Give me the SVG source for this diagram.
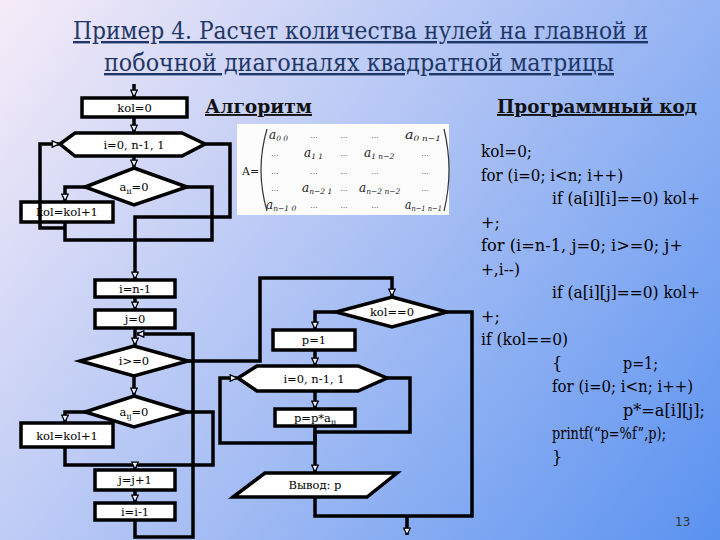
<svg xmlns="http://www.w3.org/2000/svg" width="720" height="540" viewBox="0 0 720 540">
<defs>
<linearGradient id="bg" x1="0" y1="0" x2="720" y2="540" gradientUnits="userSpaceOnUse">
<stop offset="0" stop-color="#f6ecf8"/>
<stop offset="0.5" stop-color="#aac0f4"/>
<stop offset="1" stop-color="#5a92f0"/>
</linearGradient>
<marker id="ah" viewBox="0 0 10 10" refX="9.5" refY="5" markerWidth="8" markerHeight="8" markerUnits="userSpaceOnUse" orient="auto">
<path d="M1,1 L9.5,5 L1,9 Z" fill="#e8eefb" stroke="#000" stroke-width="1.6"/>
</marker>
<style>
.n{fill:#fff;stroke:#000;stroke-width:3.5}
.c{fill:none;stroke:#000;stroke-width:3.5}
.a{marker-end:url(#ah)}
.t{font-family:'DejaVu Serif','Liberation Serif',serif;font-size:11.5px;text-anchor:middle;fill:#000}
.code{font-family:'DejaVu Serif','Liberation Serif',serif;font-size:16px;fill:#000}
.h{font-family:'DejaVu Serif','Liberation Serif',serif;font-size:19px;font-weight:bold;fill:#111;text-decoration:underline}
.ttl{font-family:'DejaVu Serif','Liberation Serif',serif;font-size:24px;fill:#1f3766;text-decoration:underline}
.m{font-family:'DejaVu Serif','Liberation Serif',serif;font-size:12px;font-style:italic;fill:#222}
.d{font-family:'DejaVu Serif','Liberation Serif',serif;font-size:8px;fill:#333;text-anchor:middle}
</style>
</defs>
<rect x="0" y="0" width="720" height="540" fill="url(#bg)"/>

<g id="title">
<text class="ttl" x="73" y="39" textLength="575" lengthAdjust="spacingAndGlyphs">Пример 4. Расчет количества нулей на главной и</text>
<text class="ttl" x="104" y="71" textLength="510" lengthAdjust="spacingAndGlyphs">побочной диагоналях квадратной матрицы</text>
</g>

<g id="headers">
<text class="h" x="205" y="113" textLength="107" lengthAdjust="spacingAndGlyphs">Алгоритм</text>
<text class="h" x="497" y="113" textLength="200" lengthAdjust="spacingAndGlyphs">Программный код</text>
</g>

<g id="matrix">
<rect x="237" y="124" width="212" height="91" fill="#fcfcfc"/>
<text x="242" y="175" font-family="'DejaVu Serif',serif" font-size="11" fill="#222">A=</text>
<path d="M267,129 Q255,170 267,211" fill="none" stroke="#333" stroke-width="1.2"/>
<path d="M444,129 Q454,170 444,211" fill="none" stroke="#333" stroke-width="1.2"/>
<text class="m" x="269" y="139">a<tspan font-size="7.5" dy="2">0 0</tspan></text>
<text class="d" x="314" y="138">...</text><text class="d" x="344" y="138">...</text><text class="d" x="375" y="138">...</text>
<text class="m" x="405" y="139" textLength="36" lengthAdjust="spacingAndGlyphs">a<tspan font-size="7.5" dy="2">0 n−1</tspan></text>
<text class="d" x="275" y="156">...</text>
<text class="m" x="304" y="157">a<tspan font-size="7.5" dy="2">1 1</tspan></text>
<text class="d" x="344" y="156">...</text>
<text class="m" x="364" y="157">a<tspan font-size="7.5" dy="2">1 n−2</tspan></text>
<text class="d" x="425" y="156">...</text>
<text class="d" x="275" y="174">...</text><text class="d" x="314" y="174">...</text><text class="d" x="344" y="174">...</text><text class="d" x="375" y="174">...</text><text class="d" x="425" y="174">...</text>
<text class="d" x="275" y="191">...</text>
<text class="m" x="302" y="192">a<tspan font-size="7.5" dy="2">n−2 1</tspan></text>
<text class="d" x="344" y="191">...</text>
<text class="m" x="359" y="192">a<tspan font-size="7.5" dy="2">n−2 n−2</tspan></text>
<text class="d" x="425" y="191">...</text>
<text class="m" x="266" y="209">a<tspan font-size="7.5" dy="2">n−1 0</tspan></text>
<text class="d" x="314" y="208">...</text><text class="d" x="344" y="208">...</text><text class="d" x="375" y="208">...</text>
<text class="m" x="405" y="209" textLength="37" lengthAdjust="spacingAndGlyphs">a<tspan font-size="7.5" dy="2">n−1 n−1</tspan></text>
</g>

<g id="code" class="code">
<text x="481" y="157" textLength="51" lengthAdjust="spacingAndGlyphs">kol=0;</text>
<text x="481" y="180.5" textLength="142" lengthAdjust="spacingAndGlyphs">for (i=0; i&lt;n; i++)</text>
<text x="552" y="204" textLength="148" lengthAdjust="spacingAndGlyphs">if (a[i][i]==0) kol+</text>
<text x="481" y="227.5">+;</text>
<text x="481" y="251" textLength="202" lengthAdjust="spacingAndGlyphs">for (i=n-1, j=0; i&gt;=0; j+</text>
<text x="481" y="274.5" textLength="39" lengthAdjust="spacingAndGlyphs">+,i--)</text>
<text x="552" y="298" textLength="148" lengthAdjust="spacingAndGlyphs">if (a[i][j]==0) kol+</text>
<text x="481" y="321.5">+;</text>
<text x="481" y="345" textLength="87" lengthAdjust="spacingAndGlyphs">if (kol==0)</text>
<text x="552" y="368.5">{</text>
<text x="623" y="368.5" textLength="35" lengthAdjust="spacingAndGlyphs">p=1;</text>
<text x="552" y="392" textLength="141" lengthAdjust="spacingAndGlyphs">for (i=0; i&lt;n; i++)</text>
<text x="623" y="415.5" textLength="82" lengthAdjust="spacingAndGlyphs">p*=a[i][j];</text>
<text x="552" y="439" textLength="114" lengthAdjust="spacingAndGlyphs">printf(“p=%f”,p);</text>
<text x="552" y="462.5">}</text>
</g>

<text id="page" x="675" y="526" font-family="'DejaVu Sans',sans-serif" font-size="12" fill="#333">13</text>

<g id="n-kol0"><rect class="n" x="82" y="98" width="105" height="19"/><text class="t" x="134.5" y="112">kol=0</text></g>
<g id="n-loop1"><polygon class="n" points="60,144 75,133 182,133 205,144 182,156 75,156"/><text class="t" x="134" y="149">i=0, n-1, 1</text></g>
<g id="n-aii"><polygon class="n" points="134,168 187,187 134,205 85,187"/><text class="t" x="134" y="191">a<tspan font-size="8" dy="3">ii</tspan><tspan dy="-3">=0</tspan></text></g>
<g id="n-inc1"><rect class="n" x="21" y="202" width="92" height="20"/><text class="t" x="67" y="216">kol=kol+1</text></g>
<g id="n-in1"><rect class="n" x="95" y="280" width="80" height="17"/><text class="t" x="135" y="293">i=n-1</text></g>
<g id="n-j0"><rect class="n" x="95" y="310" width="80" height="18"/><text class="t" x="135" y="323">j=0</text></g>
<g id="n-ige0"><polygon class="n" points="134,346 188,361 134,376 80,361"/><text class="t" x="134" y="365">i&gt;=0</text></g>
<g id="n-aij"><polygon class="n" points="134,396 187,412 134,427 85,412"/><text class="t" x="134" y="416">a<tspan font-size="8" dy="3">ij</tspan><tspan dy="-3">=0</tspan></text></g>
<g id="n-inc2"><rect class="n" x="21" y="423" width="92" height="24"/><text class="t" x="67" y="440">kol=kol+1</text></g>
<g id="n-jinc"><rect class="n" x="95" y="470" width="80" height="20"/><text class="t" x="135" y="484">j=j+1</text></g>
<g id="n-idec"><rect class="n" x="95" y="503" width="80" height="17"/><text class="t" x="135" y="516">i=i-1</text></g>
<g id="n-kol00"><polygon class="n" points="392,297 447,312 392,327 336,312"/><text class="t" x="392" y="316">kol==0</text></g>
<g id="n-p1"><rect class="n" x="273" y="330" width="82" height="20"/><text class="t" x="314" y="344">p=1</text></g>
<g id="n-loop2"><polygon class="n" points="238,378 257,366 358,366 387,378 358,391 257,391"/><text class="t" x="314" y="383">i=0, n-1, 1</text></g>
<g id="n-pmul"><rect class="n" x="275" y="409" width="80" height="17"/><text class="t" x="315" y="422">p=p*a<tspan font-size="8" dy="3">ii</tspan></text></g>
<g id="n-out"><polygon class="n" points="265,473 397,473 367,497 233,497"/><text class="t" x="315" y="489">Вывод: p</text></g>

<g id="connectors">
<path class="c a" d="M134,84 V97"/>
<path class="c a" d="M134,117 V132"/>
<path class="c a" d="M134,156 V167"/>
<path class="c a" d="M85,187 H65 V201"/>
<path class="c" d="M187,187 H212 V240 H65 V222"/>
<path class="c a" d="M65,228 H40 V144 H59"/>
<path class="c a" d="M205,144 H230 V217 H135 V279"/>
<path class="c a" d="M135,297 V309"/>
<path class="c a" d="M135,328 V345"/>
<path class="c a" d="M135,520 V537 H193 V334 H137"/>
<path class="c a" d="M188,361 H260 V278 H392 V296"/>
<path class="c a" d="M134,376 V395"/>
<path class="c a" d="M85,412 H65 V422"/>
<path class="c" d="M187,412 H213 V465 H65 V447"/>
<path class="c a" d="M135,465 V469"/>
<path class="c a" d="M135,490 V502"/>
<path class="c a" d="M336,312 H315 V329"/>
<path class="c a" d="M315,350 V365"/>
<path class="c a" d="M315,391 V408"/>
<path class="c a" d="M315,426 V443 H220 V378 H237"/>
<path class="c a" d="M387,378 H410 V432 H315 V472"/>
<path class="c" d="M315,497 V516 H472 V312 H447"/>
<path class="c a" d="M407,516 V535"/>
</g>
</svg>
